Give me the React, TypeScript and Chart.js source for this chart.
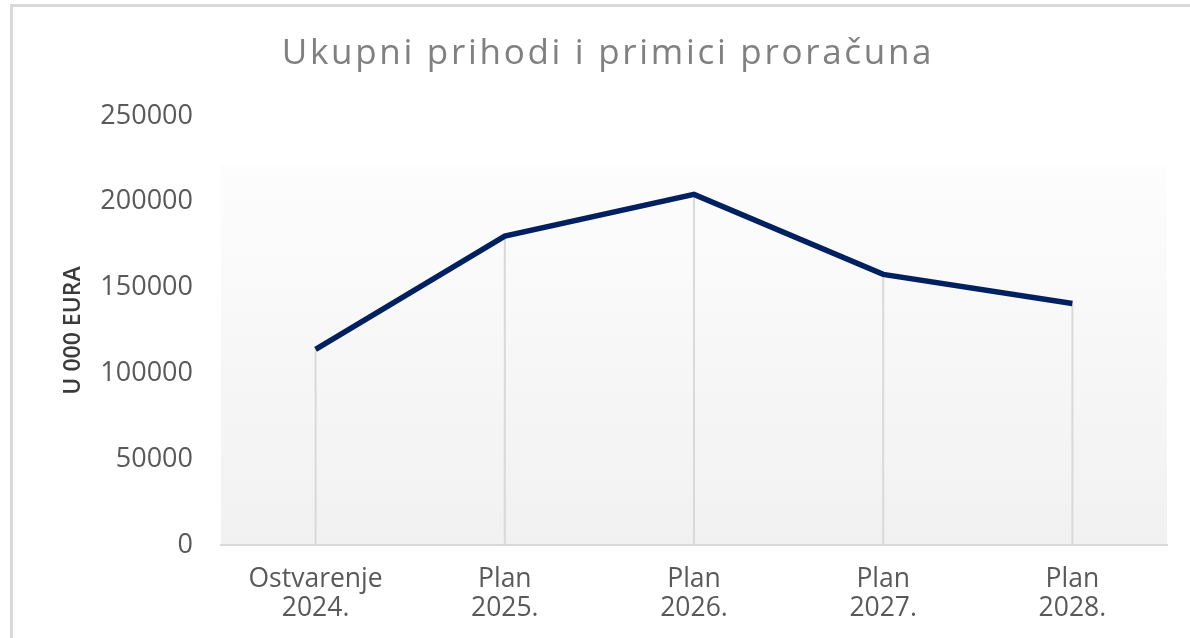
import React, { useEffect, useRef } from "react";
import { Chart, registerables } from "chart.js";

Chart.register(...registerables);

const categories: string[][] = [
  ["Ostvarenje", "2024."],
  ["Plan", "2025."],
  ["Plan", "2026."],
  ["Plan", "2027."],
  ["Plan", "2028."],
];
const values: number[] = [114000, 180000, 204300, 157700, 140700];
const yTickValues: number[] = [0, 50000, 100000, 150000, 200000, 250000];
const chartTitle = "Ukupni prihodi i primici proračuna";
const yAxisTitle = "U 000 EURA";

const plotBackground = {
  id: "plotBackground",
  beforeDraw(chart: any) {
    const { ctx, chartArea } = chart;
    if (!chartArea) return;
    const { left, right, top, bottom } = chartArea;
    const g = ctx.createLinearGradient(0, top, 0, bottom);
    g.addColorStop(0, "#ffffff");
    g.addColorStop(0.109, "#ffffff");
    g.addColorStop(0.11, "#fdfdfd");
    g.addColorStop(1, "#f1f1f1");
    ctx.save();
    ctx.fillStyle = g;
    ctx.fillRect(left, top, right - left, bottom - top);
    ctx.restore();
  },
};

const dropLines = {
  id: "dropLines",
  beforeDatasetsDraw(chart: any) {
    const { ctx } = chart;
    const xs = chart.scales.x;
    const ys = chart.scales.y;
    ctx.save();
    ctx.strokeStyle = "#d9d9d9";
    ctx.lineWidth = 2;
    values.forEach((v, i) => {
      const x = xs.getPixelForValue(i);
      ctx.beginPath();
      ctx.moveTo(x, ys.getPixelForValue(v));
      ctx.lineTo(x, ys.getPixelForValue(0));
      ctx.stroke();
    });
    ctx.restore();
  },
};

const spacedTitle = {
  id: "spacedTitle",
  afterDraw(chart: any) {
    const { ctx } = chart;
    ctx.save();
    ctx.font = "normal 35px 'Open Sans', sans-serif";
    ctx.fillStyle = "#808080";
    (ctx as any).letterSpacing = "2.7px";
    ctx.textAlign = "center";
    ctx.textBaseline = "alphabetic";
    ctx.fillText(chartTitle, 608, 64);
    ctx.restore();
  },
};

export default function App() {
  const ref = useRef<HTMLCanvasElement | null>(null);

  useEffect(() => {
    if (!ref.current) return;
    const chart = new Chart(ref.current, {
      type: "line",
      data: {
        labels: categories,
        datasets: [
          {
            data: values,
            borderColor: "#002060",
            borderWidth: 5.5,
            pointRadius: 0,
            tension: 0,
            fill: false,
          },
        ],
      },
      plugins: [plotBackground, dropLines, spacedTitle],
      options: {
        animation: false,
        responsive: false,
        maintainAspectRatio: false,
        layout: { padding: { left: 49, right: 23, top: 116, bottom: 0 } },
        plugins: {
          legend: { display: false },
          tooltip: { enabled: false },
          title: { display: false },
        },
        scales: {
          x: {
            type: "category",
            offset: true,
            grid: { display: false, drawTicks: false },
            border: { display: true, color: "#d9d9d9", width: 2 },
            ticks: {
              color: "#595959",
              font: { family: "'Open Sans', sans-serif", size: 26.5, lineHeight: 1.13 },
              padding: 19,
              maxRotation: 0,
              autoSkip: false,
            },
            afterFit(scale: any) {
              scale.height = 93;
            },
          },
          y: {
            min: 0,
            max: 250000,
            afterBuildTicks(scale: any) {
              scale.ticks = yTickValues.map((v) => ({ value: v }));
            },
            grid: { display: false, drawTicks: false },
            border: { display: false },
            ticks: {
              color: "#595959",
              font: { family: "'Open Sans', sans-serif", size: 27 },
              padding: 28,
              callback: (v: any) => String(v),
            },
            title: {
              display: true,
              text: yAxisTitle,
              color: "#3a3a3a",
              font: { family: "'Open Sans', sans-serif", size: 23, weight: "600" },
              padding: { top: 11, bottom: 0 },
            },
            afterFit(scale: any) {
              scale.width = 221 - 49;
            },
          },
        },
      },
    });
    return () => chart.destroy();
  }, []);

  return (
    <div style={{ position: "fixed", left: 0, top: 0, width: 1190, height: 638, background: "#ffffff", overflow: "hidden" }}>
      <canvas ref={ref} width={1190} height={638} style={{ position: "absolute", left: 0, top: 0, width: 1190, height: 638 }} />
      <div
        style={{
          position: "absolute",
          left: 10,
          top: 4,
          width: 1200,
          height: 700,
          border: "3px solid #d9d9d9",
          pointerEvents: "none",
        }}
      />
    </div>
  );
}
